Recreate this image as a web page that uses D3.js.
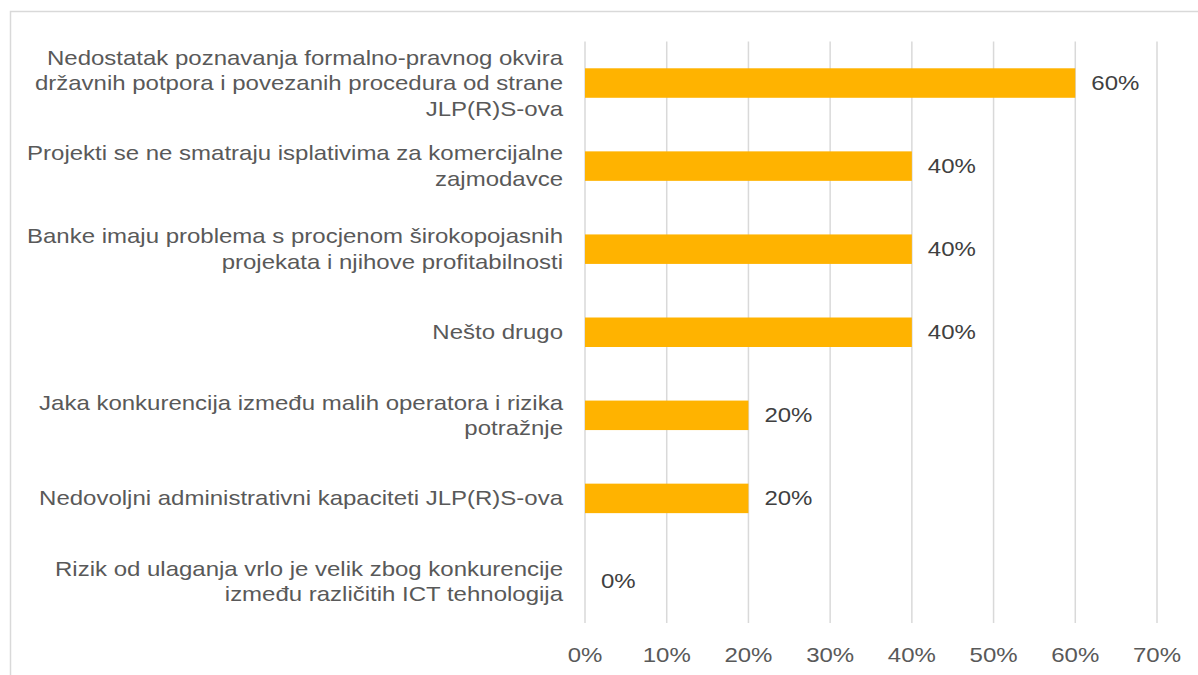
<!DOCTYPE html>
<html>
<head>
<meta charset="utf-8">
<script src="https://cdn.jsdelivr.net/npm/d3@7"></script>
<style>
  body { margin: 0; background: #fff; }
  svg { display: block; font-family: "Liberation Sans", Arial, sans-serif; }
</style>
</head>
<body>
<div id="vis-container"></div>
<script>
// categories (already split into lines as in the picture)
const categories = [
  ["Nedostatak poznavanja formalno-pravnog okvira", "državnih potpora i povezanih procedura od strane", "JLP(R)S-ova"],
  ["Projekti se ne smatraju isplativima za komercijalne", "zajmodavce"],
  ["Banke imaju problema s procjenom širokopojasnih", "projekata i njihove profitabilnosti"],
  ["Nešto drugo"],
  ["Jaka konkurencija između malih operatora i rizika", "potražnje"],
  ["Nedovoljni administrativni kapaciteti JLP(R)S-ova"],
  ["Rizik od ulaganja vrlo je velik zbog konkurencije", "između različitih ICT tehnologija"]
];
const values = [0.6, 0.4, 0.4, 0.4, 0.2, 0.2, 0];
const xTicks = [0, 0.1, 0.2, 0.3, 0.4, 0.5, 0.6, 0.7];

const width = 1198;
const height = 675;
const margin = { top: 41.5, right: 41, bottom: 52, left: 585 };
const stretch = 1.2; // text in the picture is drawn wider than normal

const svg = d3.select("#vis-container")
  .append("svg")
  .attr("width", width)
  .attr("height", height);

// outer frame (only top and left visible)
svg.append("path")
  .attr("d", `M10.5,${height} L10.5,11.5 L${width},11.5`)
  .attr("fill", "none")
  .attr("stroke", "#d9d9d9")
  .attr("stroke-width", 1.5);

const x = d3.scaleLinear()
  .domain([0, 0.7])
  .range([margin.left, width - margin.right]);

const y = d3.scaleBand()
  .domain(d3.range(categories.length))
  .range([margin.top, height - margin.bottom])
  .paddingInner(0.645)
  .paddingOuter(0.3225);

// gridlines
svg.append("g")
  .selectAll("line")
  .data(xTicks)
  .join("line")
  .attr("x1", d => x(d))
  .attr("x2", d => x(d))
  .attr("y1", margin.top)
  .attr("y2", height - margin.bottom)
  .attr("stroke", "#d9d9d9")
  .attr("stroke-width", 1.5);

// x axis tick labels
svg.append("g")
  .selectAll("text")
  .data(xTicks)
  .join("text")
  .attr("transform", d => `translate(${x(d)},662) scale(${stretch},1)`)
  .attr("text-anchor", "middle")
  .attr("font-size", "20px")
  .attr("fill", "#595959")
  .text(d => d3.format(".0%")(d));

// bars
svg.append("g")
  .selectAll("rect")
  .data(values)
  .join("rect")
  .attr("x", x(0))
  .attr("y", (d, i) => y(i))
  .attr("width", d => x(d) - x(0))
  .attr("height", y.bandwidth())
  .attr("fill", "#FFB300");

// value labels
svg.append("g")
  .selectAll("text")
  .data(values)
  .join("text")
  .attr("transform", (d, i) =>
    `translate(${x(d) + 16},${y(i) + y.bandwidth() / 2 + 7}) scale(${stretch},1)`)
  .attr("font-size", "20px")
  .attr("fill", "#404040")
  .text(d => d3.format(".0%")(d));

// category labels
const lineH = 25.5;
const labels = svg.append("g")
  .selectAll("text")
  .data(categories)
  .join("text")
  .attr("text-anchor", "end")
  .attr("font-size", "20px")
  .attr("fill", "#595959")
  .attr("transform", (d, i) => {
    const cy = y(i) + y.bandwidth() / 2;
    const top = cy - (d.length - 1) * lineH / 2 + 7;
    return `translate(563,${top}) scale(${stretch},1)`;
  });

labels.selectAll("tspan")
  .data(d => d)
  .join("tspan")
  .attr("x", 0)
  .attr("dy", (d, i) => i === 0 ? 0 : lineH)
  .text(d => d);
</script>
</body>
</html>
